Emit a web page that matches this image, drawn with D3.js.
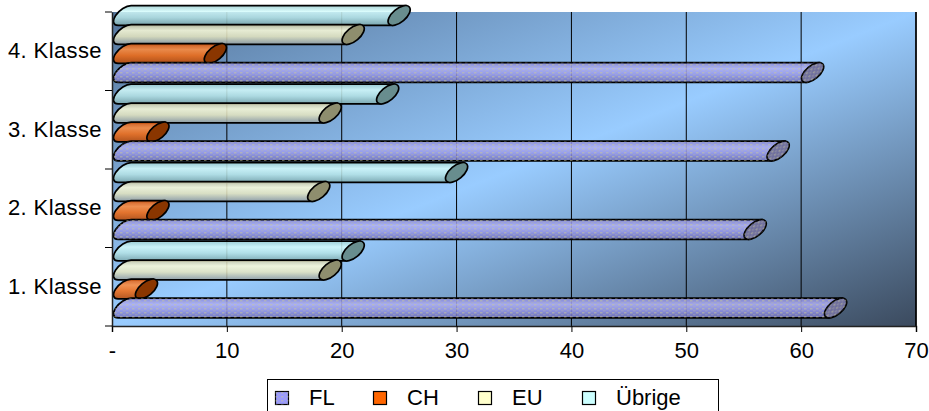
<!DOCTYPE html>
<html>
<head>
<meta charset="utf-8">
<script src="https://cdn.jsdelivr.net/npm/d3@7"></script>
<style>
  body { margin: 0; background: #fff; }
  text { font-family: "Liberation Sans", Arial, sans-serif; }
</style>
</head>
<body>
<script>
var categories = ["1. Klasse", "2. Klasse", "3. Klasse", "4. Klasse"];
var seriesNames = ["FL", "CH", "EU", "Übrige"];
var FL = [63, 56, 58, 61];
var CH = [3, 4, 4, 9];
var EU = [19, 18, 19, 21];
var Ubrige = [21, 30, 24, 25];
var xTicks = [0, 10, 20, 30, 40, 50, 60, 70];

var seriesValues = [FL, CH, EU, Ubrige];

// body gradient (top, highlight, mid, bottom) + end cap colour
var looks = {
  "FL":     { stops: ["#8282d2", "#aeaef6", "#9696e8", "#6c6cb6"], cap: "#70709e", swatch: "#9999ff", dots: true },
  "CH":     { stops: ["#d9540a", "#ff8a3a", "#f26a12", "#b84500"], cap: "#8a3600", swatch: "#ff6600", dots: false },
  "EU":     { stops: ["#c4c4a4", "#fbfbd8", "#e6e6c0", "#8e9aa0"], cap: "#8e8e6e", swatch: "#ffffcc", dots: false },
  "Übrige": { stops: ["#9acccf", "#d4fbfb", "#b6e4e6", "#7aa6aa"], cap: "#688d8e", swatch: "#ccffff", dots: false }
};

var W = 929, H = 411;
var pLeft = 112, pRight = 916, pTop = 12, pBottom = 326;

var svg = d3.select("body").append("svg")
  .attr("width", W)
  .attr("height", H);

var defs = svg.append("defs");

var bg = defs.append("linearGradient")
  .attr("id", "bg")
  .attr("x1", 0).attr("y1", 0).attr("x2", 1).attr("y2", 1);
bg.append("stop").attr("offset", 0).attr("stop-color", "#55759a");
bg.append("stop").attr("offset", 0.5).attr("stop-color", "#99ccff");
bg.append("stop").attr("offset", 1).attr("stop-color", "#3b4a5e");

seriesNames.forEach(function(s, i) {
  var g = defs.append("linearGradient")
    .attr("id", "cyl" + i)
    .attr("x1", 0).attr("y1", 0).attr("x2", 0).attr("y2", 1);
  [0, 0.3, 0.6, 1].forEach(function(o, j) {
    g.append("stop").attr("offset", o).attr("stop-color", looks[s].stops[j]);
  });
});

var pat = defs.append("pattern")
  .attr("id", "dots")
  .attr("width", 6).attr("height", 4)
  .attr("patternUnits", "userSpaceOnUse");
pat.append("rect").attr("x", 0).attr("y", 0).attr("width", 2.5).attr("height", 1.5)
  .attr("fill", "#c8c89c").attr("opacity", 0.5);
pat.append("rect").attr("x", 3).attr("y", 2).attr("width", 2.5).attr("height", 1.5)
  .attr("fill", "#b4b4a8").attr("opacity", 0.35);

var xScale = d3.scaleLinear().domain([0, 70]).range([pLeft, pRight]);
var yScale = d3.scaleBand().domain(categories).range([pBottom, pTop]);
var bw = yScale.bandwidth();
// series inside a category, FL at the bottom, shifted up for the 3D depth
var ySub = d3.scaleBand().domain(seriesNames).range([bw - 8.5, bw - 8.5 - 4 * 19]);

// plot area
svg.append("rect")
  .attr("x", pLeft).attr("y", pTop)
  .attr("width", pRight - pLeft).attr("height", pBottom - pTop)
  .attr("fill", "url(#bg)");

svg.append("g")
  .selectAll("line")
  .data(xTicks.slice(1))
  .enter()
  .append("line")
  .attr("x1", function(d) { return xScale(d); })
  .attr("x2", function(d) { return xScale(d); })
  .attr("y1", pTop).attr("y2", pBottom)
  .attr("stroke", "#000").attr("stroke-width", 1);

// cylinders: tilted ellipse for the ends
var ea = 13.3, eb = 6.7, rot = -40;
var rs = Math.sin(rot * Math.PI / 180), rc = Math.cos(rot * Math.PI / 180);
var hh = Math.sqrt(ea * ea * rs * rs + eb * eb * rc * rc);   // half height
var hw = Math.sqrt(ea * ea * rc * rc + eb * eb * rs * rs);   // half width
var off = -(ea * ea - eb * eb) * rs * rc / hh;               // x shift of top / bottom point

function bodyPath(x0, x1, yc) {
  return "M" + (x0 + off) + "," + (yc - hh) +
    "L" + (x1 + off) + "," + (yc - hh) +
    "L" + (x1 - off) + "," + (yc + hh) +
    "L" + (x0 - off) + "," + (yc + hh) +
    "A" + ea + "," + eb + " " + rot + " 0 1 " + (x0 + off) + "," + (yc - hh) + "Z";
}

var bars = [];
categories.forEach(function(c, ci) {
  for (var si = seriesNames.length - 1; si >= 0; si--) {
    bars.push({ cat: c, s: seriesNames[si], si: si, v: seriesValues[si][ci] });
  }
});
bars.sort(function(a, b) { return d3.ascending(yScale(a.cat), yScale(b.cat)); });

var barG = svg.append("g")
  .selectAll("g")
  .data(bars)
  .enter()
  .append("g");

function yc(d) { return yScale(d.cat) + ySub(d.s) + ySub.bandwidth() / 2; }
function x0(d) { return xScale(0) + hw + 1.5; }

barG.append("path")
  .attr("d", function(d) { return bodyPath(x0(d), xScale(d.v), yc(d)); })
  .attr("fill", function(d) { return "url(#cyl" + d.si + ")"; })
  .attr("fill-opacity", 0.86)
  .attr("stroke", "#000").attr("stroke-width", 1.7);

barG.filter(function(d) { return looks[d.s].dots; })
  .append("path")
  .attr("d", function(d) { return bodyPath(x0(d), xScale(d.v), yc(d)); })
  .attr("fill", "url(#dots)");

barG.append("ellipse")
  .attr("cx", 0).attr("cy", 0)
  .attr("rx", ea).attr("ry", eb)
  .attr("transform", function(d) {
    return "translate(" + xScale(d.v) + "," + yc(d) + ") rotate(" + rot + ")";
  })
  .attr("fill", function(d) { return looks[d.s].cap; })
  .attr("stroke", "#000").attr("stroke-width", 1.7);

barG.filter(function(d) { return looks[d.s].dots; })
  .append("ellipse")
  .attr("rx", ea).attr("ry", eb)
  .attr("transform", function(d) {
    return "translate(" + xScale(d.v) + "," + yc(d) + ") rotate(" + rot + ")";
  })
  .attr("fill", "url(#dots)");

// right border of plot
svg.append("line")
  .attr("x1", pRight).attr("x2", pRight)
  .attr("y1", pTop).attr("y2", pBottom)
  .attr("stroke", "#000").attr("stroke-width", 1.5);

// axes
var xAxis = d3.axisBottom(xScale)
  .tickValues(xTicks)
  .tickSize(6)
  .tickPadding(10)
  .tickFormat(function(d) { return d === 0 ? "-" : d; });

var gx = svg.append("g")
  .attr("transform", "translate(0," + pBottom + ")")
  .call(xAxis);
gx.select(".domain").attr("stroke", "#222").attr("stroke-width", 1.5);
gx.selectAll("text").attr("font-size", 22).attr("fill", "#000")
  .attr("font-family", "Liberation Sans, Arial, sans-serif");

var yAxis = d3.axisLeft(yScale).tickSize(0).tickPadding(10);
var gy = svg.append("g")
  .attr("transform", "translate(" + pLeft + ",0)")
  .call(yAxis);
gy.select(".domain").attr("stroke", "#222").attr("stroke-width", 1.5);
gy.selectAll("text").attr("font-size", 22).attr("fill", "#000")
  .attr("letter-spacing", 0.4)
  .attr("font-family", "Liberation Sans, Arial, sans-serif");

var bounds = categories.map(function(c) { return yScale(c); }).concat([yScale(categories[0]) + bw]);
gy.selectAll(".bound")
  .data(bounds)
  .enter()
  .append("line")
  .attr("class", "bound")
  .attr("x1", -7).attr("x2", 0)
  .attr("y1", function(d) { return d; }).attr("y2", function(d) { return d; })
  .attr("stroke", "#000");

// legend
var legendX = [275, 373, 478, 582];
var legend = svg.append("g");
legend.append("rect")
  .attr("x", 267.5).attr("y", 379.5)
  .attr("width", 451).attr("height", 40)
  .attr("fill", "#fff").attr("stroke", "#000");

var li = legend.selectAll(".item")
  .data(seriesNames)
  .enter()
  .append("g")
  .attr("class", "item")
  .attr("transform", function(d, i) { return "translate(" + legendX[i] + ",0)"; });

li.append("rect")
  .attr("x", 0.5).attr("y", 391.5)
  .attr("width", 13).attr("height", 13)
  .attr("fill", function(d) { return looks[d].swatch; })
  .attr("stroke", "#000").attr("stroke-width", 1.2);
li.filter(function(d) { return looks[d].dots; })
  .append("rect")
  .attr("x", 0.5).attr("y", 391.5)
  .attr("width", 13).attr("height", 13)
  .attr("fill", "url(#dots)");

li.append("text")
  .attr("x", 34).attr("y", 405)
  .attr("font-size", 22)
  .text(function(d) { return d; });
</script>
</body>
</html>
